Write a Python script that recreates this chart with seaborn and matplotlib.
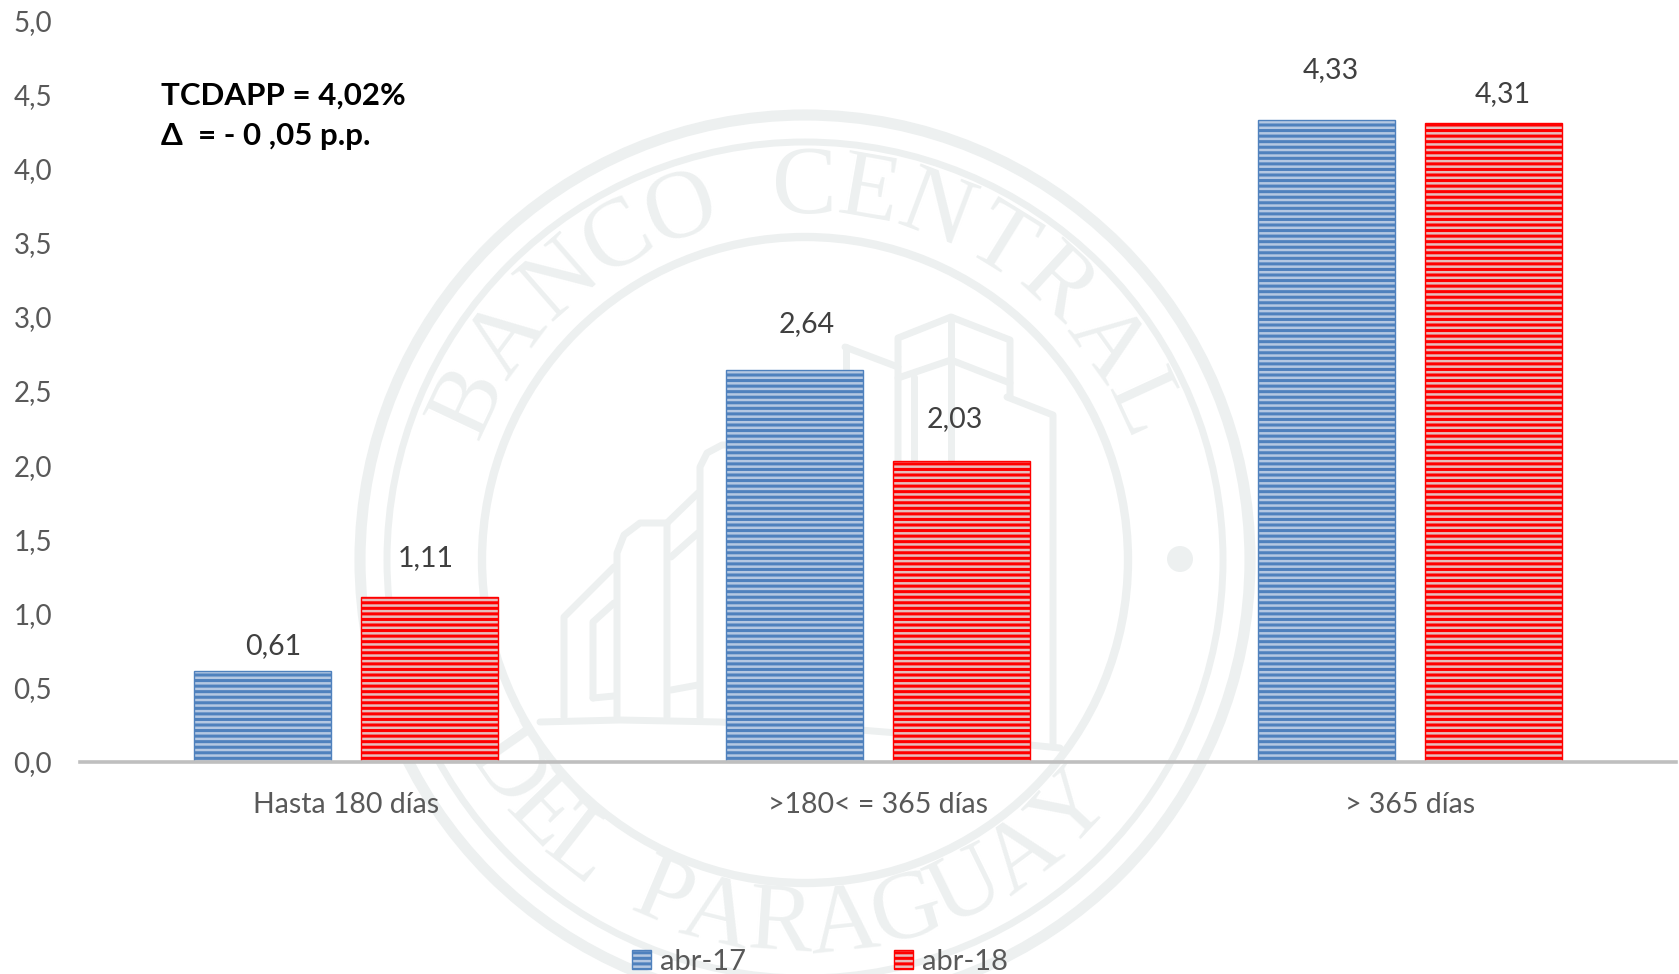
import numpy as np
import pandas as pd
import seaborn as sns
import matplotlib.pyplot as plt
from matplotlib.patches import Circle
from matplotlib.textpath import TextPath
from matplotlib.font_manager import FontProperties

# ===============================
# Data
# ===============================
categorias = ["Hasta 180 días", ">180< = 365 días", "> 365 días"]
abr_17 = [0.61, 2.64, 4.33]
abr_18 = [1.11, 2.03, 4.31]
etiquetas_17 = ["0,61", "2,64", "4,33"]
etiquetas_18 = ["1,11", "2,03", "4,31"]
series = ["abr-17", "abr-18"]
yticks = [0.0, 0.5, 1.0, 1.5, 2.0, 2.5, 3.0, 3.5, 4.0, 4.5, 5.0]
nota_1 = "TCDAPP = 4,02%"
nota_2 = "Δ  = - 0 ,05 p.p."

df = pd.DataFrame({
    "plazo": categorias * 2,
    "tasa": abr_17 + abr_18,
    "serie": [series[0]] * 3 + [series[1]] * 3,
})

W, H = 1679, 974
sns.set_theme(style="white")
plt.rcParams["font.family"] = ["Lato", "DejaVu Sans"]
plt.rcParams["hatch.linewidth"] = 2.2

fig = plt.figure(figsize=(W / 100, H / 100), dpi=100, facecolor="white")

# ===============================
# Watermark (pixel coordinates)
# ===============================
bg = fig.add_axes([0, 0, 1, 1], zorder=0)
bg.set_xlim(0, W)
bg.set_ylim(H, 0)
bg.axis("off")
wm = "#edf0f0"
cx, cy = 805, 560

for r, lw in [(445, 8), (418, 5), (323, 6)]:
    bg.add_patch(Circle((cx, cy), r, fill=False, ec=wm, lw=lw))
bg.add_patch(Circle((1180, 559), 13, fc=wm, ec="none"))

lineas = [
    [(540, 722), (620, 720), (720, 722), (860, 730), (960, 738), (1060, 748)],
    [(564, 717), (564, 617), (614, 567)],
    [(617, 717), (617, 553), (624, 535), (640, 523), (667, 523), (667, 717)],
    [(667, 523), (698, 493)],
    [(700, 717), (700, 467), (707, 453), (722, 445), (760, 445)],
    [(593, 698), (593, 622), (614, 603)],
    [(593, 698), (614, 696)],
    [(671, 557), (698, 533)],
    [(671, 690), (698, 685)],
    [(845, 347), (898, 367)],
    [(846, 347), (846, 372)],
    [(898, 740), (898, 338), (951, 317), (1010, 340), (1010, 397)],
    [(898, 378), (951, 360), (1010, 383)],
    [(951, 317), (951, 460)],
    [(914, 377), (914, 460)],
    [(1007, 397), (1053, 415), (1053, 747)],
]
for ln in lineas:
    xs, ys = zip(*ln)
    bg.plot(xs, ys, color=wm, lw=5, solid_capstyle="round", solid_joinstyle="round")


def texto_arco(txt, a_ini, a_fin, radio, arriba=True):
    fp = FontProperties(family="Liberation Serif", size=70)
    anchos = [TextPath((0, 0), c if c != " " else "n", prop=fp).get_extents().width + 6 for c in txt]
    total = sum(anchos)
    acum = 0
    for c, w in zip(txt, anchos):
        t = (acum + w / 2) / total
        a = a_ini + (a_fin - a_ini) * t
        acum += w
        x = cx + radio * np.cos(np.radians(a))
        y = cy - radio * np.sin(np.radians(a))
        rot = a - 90 if arriba else a + 90
        bg.text(x, y, c, fontproperties=fp, color=wm, rotation=rot,
                rotation_mode="anchor", ha="center", va="center", clip_on=True)


texto_arco("BANCO CENTRAL", 160, 20, 370)
texto_arco("DEL PARAGUAY", -150, -38, 368, arriba=False)

# ===============================
# Bars
# ===============================
ax = fig.add_axes([80 / W, 1 - 761.5 / H, (W - 83) / W, (761.5 - 20.5) / H], zorder=1)
ax.patch.set_alpha(0)

sns.barplot(data=df, x="plazo", y="tasa", hue="serie", order=categorias, hue_order=series,
            palette=["#b5c8e2", "#e6bebe"], saturation=1, width=0.63, gap=0.18,
            errorbar=None, ax=ax)

ax.set_xlim(-0.5, 2.5)
ax.set_ylim(0, 5)
ax.set_xlabel("")
ax.set_ylabel("")
ax.set_yticks(yticks)
ax.set_yticklabels([f"{v:.1f}".replace(".", ",") for v in yticks])
ax.tick_params(axis="y", length=0, pad=20, labelsize=20, labelcolor="#595959")
ax.tick_params(axis="x", length=0, pad=22, labelsize=20.5, labelcolor="#595959")

for s in ["top", "right", "left"]:
    ax.spines[s].set_visible(False)
ax.spines["bottom"].set_color("#bfbfbf")
ax.spines["bottom"].set_linewidth(2.6)

colores = ["#4f81bd", "#ff0000"]
for cont, col in zip(ax.containers, colores):
    for p in cont:
        p.set_hatch("---")
        p.set_edgecolor(col)
        p.set_linewidth(1)

# los rotulos estan movidos a mano en el original
desplaz = {0: [(11, 25), (12, 46), (5, 50)], 1: [(-4, 39), (-7, 42), (9, 29)]}
textos = [etiquetas_17, etiquetas_18]
for i, cont in enumerate(ax.containers):
    for j, p in enumerate(cont):
        dx, dy = desplaz[i][j]
        ax.annotate(textos[i][j], (p.get_x() + p.get_width() / 2, p.get_height()),
                    xytext=(dx, dy), textcoords="offset pixels", ha="center", va="center",
                    fontsize=20.5, color="#404040")

# ===============================
# Legend and note
# ===============================
handles = [cont[0] for cont in ax.containers]
ax.get_legend().remove()
fig.legend(handles, series, loc="center", bbox_to_anchor=(820 / W, 1 - 962 / H), ncol=2,
           frameon=False, fontsize=21, labelcolor="#595959", handlelength=0.65,
           handleheight=0.65, handletextpad=0.3, columnspacing=5.1,
           borderpad=0, borderaxespad=0)

fig.text(161 / W, 1 - 96 / H, nota_1, fontsize=22.5, fontweight="bold", color="black",
         va="center", ha="left")
fig.text(161 / W, 1 - 136 / H, nota_2, fontsize=22.5, fontweight="bold", color="black",
         va="center", ha="left")

fig.savefig("out.png", dpi=100)
